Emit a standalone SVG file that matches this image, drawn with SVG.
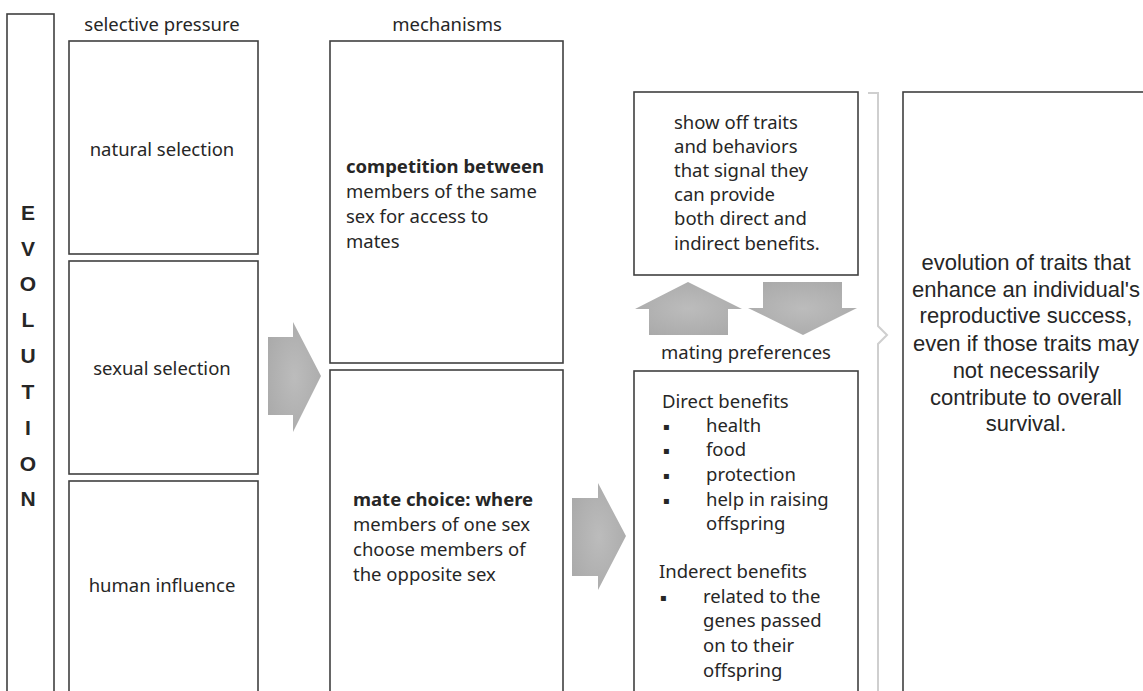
<svg xmlns="http://www.w3.org/2000/svg" width="1143" height="691" viewBox="0 0 1143 691">
<defs>
<style>
.box{fill:#fff;stroke:#404040;stroke-width:1.6}
.t{font-family:"Noto Sans","Open Sans",sans-serif;font-size:18.5px;fill:#262626}
.b{font-weight:bold}
.c{text-anchor:middle}
.ev{font-family:"Liberation Sans",Arial,sans-serif;font-size:21px;font-weight:bold;fill:#262626;text-anchor:middle}
.r{font-family:"Liberation Sans",Arial,sans-serif;font-size:22px;fill:#262626;text-anchor:middle}
.bul{font-family:"DejaVu Sans",sans-serif;font-size:10px;fill:#262626}
.arrow{fill:url(#g)}
</style>
<radialGradient id="g" cx="0.5" cy="0.5" r="0.6">
<stop offset="0" stop-color="#bcbcbc"/>
<stop offset="1" stop-color="#aaaaaa"/>
</radialGradient>
</defs>
<rect width="1143" height="691" fill="#fff"/>

<g id="evolution">
<rect class="box" x="7" y="14" width="47" height="700"/>
<text class="ev" x="28" y="220">E</text>
<text class="ev" x="28" y="256">V</text>
<text class="ev" x="28" y="291">O</text>
<text class="ev" x="28" y="327">L</text>
<text class="ev" x="28" y="363">U</text>
<text class="ev" x="28" y="399">T</text>
<text class="ev" x="28" y="435">I</text>
<text class="ev" x="28" y="471">O</text>
<text class="ev" x="28" y="506">N</text>
</g>

<g id="title-selective">
<text class="t c" x="162" y="31">selective pressure</text>
</g>
<g id="title-mechanisms">
<text class="t c" x="447" y="31">mechanisms</text>
</g>

<g id="natural-selection">
<rect class="box" x="69" y="41" width="189" height="213"/>
<text class="t c" x="162" y="156">natural selection</text>
</g>
<g id="sexual-selection">
<rect class="box" x="69" y="261" width="189" height="213"/>
<text class="t c" x="162" y="375">sexual selection</text>
</g>
<g id="human-influence">
<rect class="box" x="69" y="481" width="189" height="230"/>
<text class="t c" x="162" y="592">human influence</text>
</g>

<g id="competition">
<rect class="box" x="330" y="41" width="233" height="322"/>
<text class="t" x="346" y="173"><tspan class="b">competition between</tspan></text>
<text class="t" x="346" y="198">members of the same</text>
<text class="t" x="346" y="223">sex for access to</text>
<text class="t" x="346" y="248">mates</text>
</g>
<g id="mate-choice">
<rect class="box" x="330" y="370" width="233" height="340"/>
<text class="t" x="353" y="506"><tspan class="b">mate choice: where</tspan></text>
<text class="t" x="353" y="531">members of one sex</text>
<text class="t" x="353" y="556">choose members of</text>
<text class="t" x="353" y="581">the opposite sex</text>
</g>

<g id="show-off">
<rect class="box" x="634" y="92" width="224" height="183"/>
<text class="t" x="674" y="129">show off traits</text>
<text class="t" x="674" y="153">and behaviors</text>
<text class="t" x="674" y="177">that signal they</text>
<text class="t" x="674" y="201">can provide</text>
<text class="t" x="674" y="225">both direct and</text>
<text class="t" x="674" y="250">indirect benefits.</text>
</g>

<g id="mating-preferences">
<text class="t c" x="746" y="359">mating preferences</text>
<rect class="box" x="634" y="371" width="224" height="340"/>
<text class="t" x="662" y="408">Direct benefits</text>
<text class="bul" x="663" y="430">▪</text>
<text class="t" x="706" y="432">health</text>
<text class="bul" x="663" y="454">▪</text>
<text class="t" x="706" y="456">food</text>
<text class="bul" x="663" y="479">▪</text>
<text class="t" x="706" y="481">protection</text>
<text class="bul" x="663" y="504">▪</text>
<text class="t" x="706" y="506">help in raising</text>
<text class="t" x="706" y="530">offspring</text>
<text class="t" x="659" y="578">Inderect benefits</text>
<text class="bul" x="660" y="601">▪</text>
<text class="t" x="703" y="603">related to the</text>
<text class="t" x="703" y="627">genes passed</text>
<text class="t" x="703" y="652">on to their</text>
<text class="t" x="703" y="677">offspring</text>
</g>

<g id="outcome">
<rect class="box" x="903" y="92" width="260" height="620"/>
<text class="r" x="1026" y="270">evolution of traits that</text>
<text class="r" x="1026" y="297">enhance an individual's</text>
<text class="r" x="1026" y="323">reproductive success,</text>
<text class="r" x="1026" y="351">even if those traits may</text>
<text class="r" x="1026" y="378">not necessarily</text>
<text class="r" x="1026" y="405">contribute to overall</text>
<text class="r" x="1026" y="431">survival.</text>
</g>

<g id="connectors">
<polygon class="arrow" points="268,337 293,337 293,322 321,376 293,432 293,415 268,415"/>
<polygon class="arrow" points="572,498 598,498 598,483 626,536 598,590 598,576 572,576"/>
<polygon class="arrow" points="649,335 649,309 635,309 688,282 742,309 728,309 728,335"/>
<polygon class="arrow" points="763,282 842,282 842,308 857,308 803,335 748,308 763,308"/>
<polyline points="868,93 878,93 878,326 887,335 878,344 878,700" fill="none" stroke="#cfcfcf" stroke-width="2"/>
</g>
</svg>
